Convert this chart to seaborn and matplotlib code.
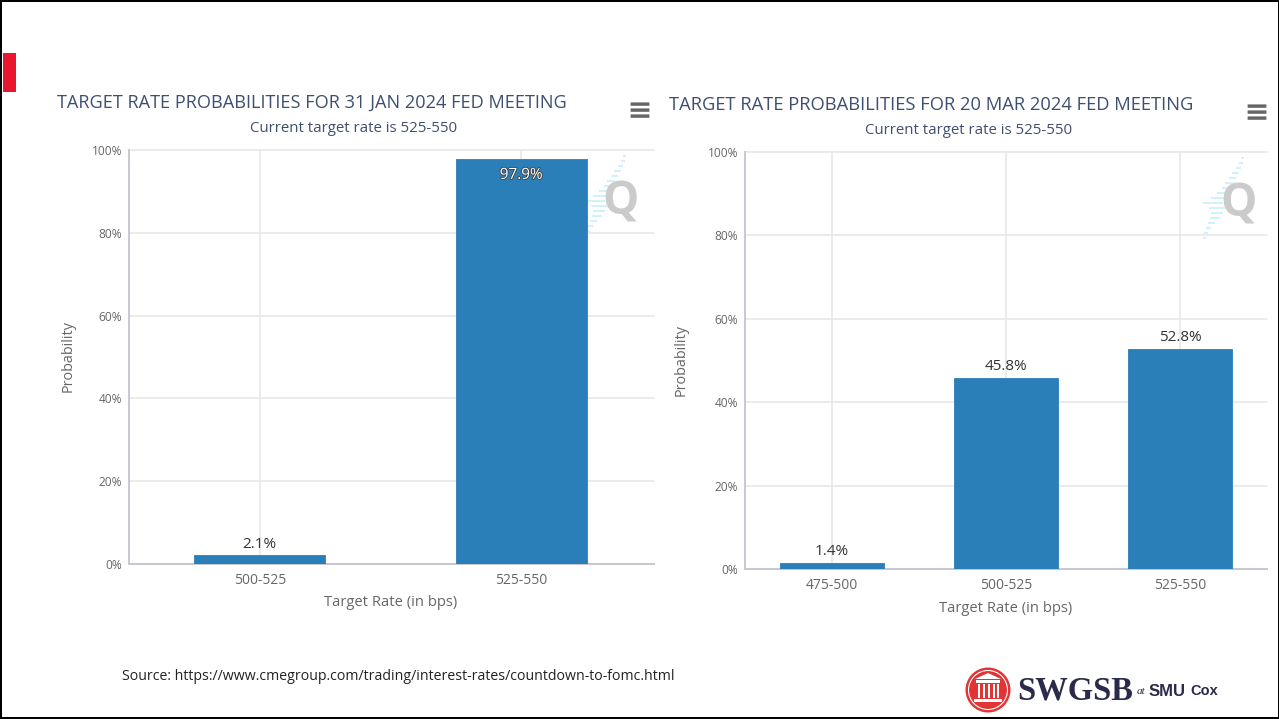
import matplotlib
matplotlib.use("Agg")
import matplotlib.pyplot as plt
import matplotlib.patheffects as pe
from matplotlib.patches import Rectangle, Circle, FancyBboxPatch
import seaborn as sns
import pandas as pd

W, H = 1279, 719
left_cats = ["500-525", "525-550"]
left_vals = [2.1, 97.9]
right_cats = ["475-500", "500-525", "525-550"]
right_vals = [1.4, 45.8, 52.8]
left_title = "TARGET RATE PROBABILITIES FOR 31 JAN 2024 FED MEETING"
right_title = "TARGET RATE PROBABILITIES FOR 20 MAR 2024 FED MEETING"
subtitle = "Current target rate is 525-550"
source = "Source: https://www.cmegroup.com/trading/interest-rates/countdown-to-fomc.html"
yticks = [0, 20, 40, 60, 80, 100]

sns.set_theme(style="white")
plt.rcParams["font.family"] = ["Open Sans", "DejaVu Sans"]
fig = plt.figure(figsize=(W / 100, H / 100), dpi=100, facecolor="white")

BAR = "#2a7fb8"
GRID = "#e6e6e6"
AX = "#c8c8d0"
TXT = "#666666"
TITLE = "#3e4f70"


def pixel_axes(z):
    a = fig.add_axes([0, 0, 1, 1], facecolor="none")
    a.set_xlim(0, W)
    a.set_ylim(H, 0)
    a.axis("off")
    a.set_zorder(z)
    return a


# watermark layer, beneath the charts
wm = pixel_axes(-1)
stripes = [(158, 2, 5), (163, 0, 4), (168, -3, 2), (173, -7, 0), (178, -10, -3), (183, -14, -6),
           (188, -17, -11), (193, -22, -14), (198, -28, -14), (203, -36, -16), (208, -30, -14),
           (213, -28, -16), (218, -29, -19), (223, -31, -24), (228, -33, -28), (233, -35, -31), (238, -36, -33)]
for qx, qy in [(621, 202), (1239, 204)]:
    for y, a, b in stripes:
        yy = y + (qy - 204)
        wm.plot([qx + a, qx + b], [yy, yy], color="#d0f2fc", lw=1.4, solid_capstyle="butt")
    wm.text(qx, qy, "Q", fontsize=33, fontweight="bold", color="#cbcbcb", ha="center", va="center",
            family="Open Sans")


def panel(x0, x1, ytop, ybot, cats, vals, width, xmax, title, tx, ty, sx, sy, ylx, yly, xlx, xly, fs):
    ax = fig.add_axes([x0 / W, 1 - ybot / H, (x1 - x0) / W, (ybot - ytop) / H], facecolor="none")
    df = pd.DataFrame({"rate": cats, "prob": vals})
    sns.barplot(data=df, x="rate", y="prob", color=BAR, saturation=1, width=width, ax=ax, zorder=3)
    for b in ax.patches:
        b.set_edgecolor(BAR)
        b.set_linewidth(0.6)
        b.set_joinstyle("round")
    ax.set_ylim(0, 100)
    ax.set_xlim(-0.5, xmax)
    ax.set_yticks(yticks)
    ax.set_yticklabels([f"{v}%" for v in yticks], fontsize=8.6, color=TXT)
    ax.tick_params(axis="x", labelsize=10, labelcolor=TXT, length=0, pad=6.5)
    ax.tick_params(axis="y", length=0, pad=5, left=False)
    ax.grid(True, color=GRID, lw=1.1, zorder=0)
    ax.set_axisbelow(True)
    for g in ax.get_ygridlines():
        g.set_clip_on(False)
    for s in ["top", "right"]:
        ax.spines[s].set_visible(False)
    for s in ["left", "bottom"]:
        ax.spines[s].set_color(AX)
        ax.spines[s].set_linewidth(1.4)
    ax.set_xlabel("")
    ax.set_ylabel("")
    for i, v in enumerate(vals):
        if v > 90:
            t = ax.text(i, v - 2.2, f"{v}%", ha="center", va="top", fontsize=11, color="white", zorder=5)
            t.set_path_effects([pe.withStroke(linewidth=1.3, foreground="#444444")])
        else:
            ax.text(i, v + 0.9, f"{v}%", ha="center", va="bottom", fontsize=11, color="#333333", zorder=5)
    fig.text(tx / W, 1 - ty / H, title, fontsize=fs, color=TITLE, ha="center", va="center")
    fig.text(sx / W, 1 - sy / H, subtitle, fontsize=10.8, color=TITLE, ha="center", va="center")
    fig.text(ylx / W, 1 - yly / H, "Probability", rotation=90, fontsize=10.4, color=TXT, ha="center", va="center")
    fig.text(xlx / W, 1 - xly / H, "Target Rate (in bps)", fontsize=10.6, color=TXT, ha="center", va="center")
    return ax


panel(129, 654, 150, 564, left_cats, left_vals, 0.5, 1.508, left_title, 312, 103, 354, 128, 68, 355.5, 390.5, 602, 13.1)
panel(745, 1267, 152, 569, right_cats, right_vals, 0.6, 2.5, right_title, 931, 105, 969, 130.5, 681, 360, 1006, 608, 13.2)

# overlay in pixel coordinates
ov = pixel_axes(10)

# frame and red tab
ov.add_patch(Rectangle((0, 0), W, 2, color="black", lw=0))
ov.add_patch(Rectangle((0, 0), 2, H, color="black", lw=0))
ov.add_patch(Rectangle((W - 1.5, 0), 1.5, H, color="black", lw=0))
ov.add_patch(Rectangle((0, H - 2), W, 2, color="black", lw=0))
ov.add_patch(Rectangle((3, 53), 13, 39, color="#e8162f", lw=0))

# hamburger menus
for mx, my in [(640, 110), (1257, 112)]:
    for d in (-6, 0, 6):
        ov.add_patch(FancyBboxPatch((mx - 9, my + d - 1.2), 18, 2.6, boxstyle="round,pad=0.4", color="#666666", lw=0))

# source and logo
ov.text(122, 676, source, fontsize=10.2, color="#222222", ha="left", va="center")
ov.add_patch(Circle((988, 690), 22.5, facecolor="#e13434", edgecolor="none"))
ov.add_patch(Circle((988, 690), 19.5, facecolor="none", edgecolor="white", lw=0.8))
ov.add_patch(Rectangle((976, 680), 24, 3, color="white", lw=0))
for cx in (979, 984, 989, 994, 998):
    ov.add_patch(Rectangle((cx - 1, 684), 2, 14, color="white", lw=0))
ov.add_patch(Rectangle((974, 699), 28, 2.5, color="white", lw=0))
ov.fill([975, 988, 1001], [679, 673, 679], color="white", lw=0)
ov.text(1017, 691, "SWGSB", fontsize=23.5, fontweight="bold", family="Liberation Serif", color="#2a2a4a", ha="left", va="center")
ov.text(1137, 691, "at", fontsize=8, style="italic", family="Liberation Serif", color="#2a2a4a", ha="left", va="center")
ov.text(1149, 691, "SMU", fontsize=12, fontweight="bold", family="Liberation Sans", color="#2a2a4a", ha="left", va="center")
ov.text(1190, 691, "Cox", fontsize=10.5, fontweight="bold", family="Liberation Sans", color="#2a2a4a", ha="left", va="center")

fig.savefig("out.png", dpi=100, facecolor="white")
